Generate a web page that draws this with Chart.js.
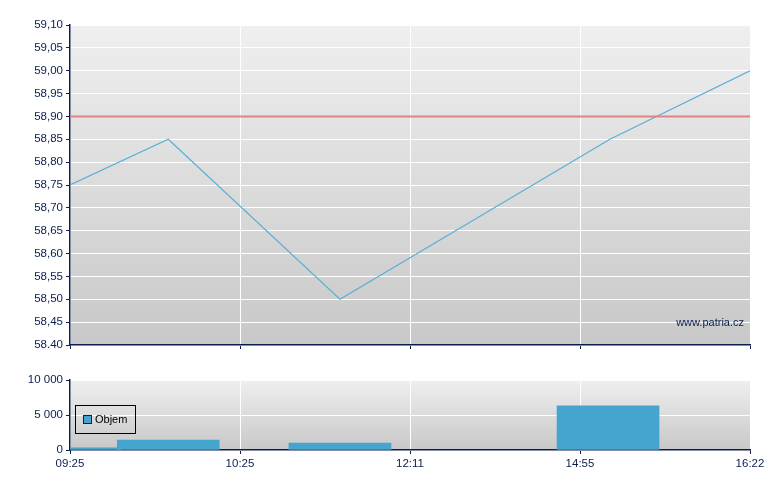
<!DOCTYPE html>
<html>
<head>
<meta charset="utf-8">
<script src="https://cdn.jsdelivr.net/npm/chart.js@4"></script>
<style>
  html, body { margin: 0; padding: 0; background: #fff; }
  #wrap { position: relative; width: 780px; height: 490px; font-family: "Liberation Sans", Arial, sans-serif; }
  #c1 { position: absolute; left: 0; top: 0; }
  #c2 { position: absolute; left: 0; top: 360px; }
  #legend { position: absolute; left: 75px; top: 405px; width: 59px; height: 27px; border: 1px solid #000; box-sizing: content-box; }
  #legend .sw { position: absolute; left: 7px; top: 9px; width: 7px; height: 7px; background: #46a5cf; border: 1px solid #10203a; }
  #legend .tx { position: absolute; left: 19px; top: 7px; font-size: 11px; color: #000; }
  #wm { position: absolute; right: 36px; top: 316px; font-size: 11px; color: #0a1f4f; }
</style>
</head>
<body>
<div id="wrap">
  <canvas id="c1" width="780" height="360" style="width:780px;height:360px"></canvas>
  <canvas id="c2" width="780" height="130" style="width:780px;height:130px"></canvas>
  <div id="wm">www.patria.cz</div>
  <div id="legend"><div class="sw"></div><div class="tx">Objem</div></div>
</div>
<script>
// ---- data ----
const timeLabels = ['09:25', '10:25', '12:11', '14:55', '16:22'];
const timeTickPos = [0, 1, 2, 3, 4];
const priceX = [0, 0.578, 1.588, 3.176, 4];
const priceY = [58.75, 58.85, 58.50, 58.85, 59.00];
const prevClose = 58.90;
const priceTickValues = [58.40, 58.45, 58.50, 58.55, 58.60, 58.65, 58.70, 58.75, 58.80, 58.85, 58.90, 58.95, 59.00, 59.05, 59.10];
const priceTickLabels = ['58.40', '58,45', '58,50', '58,55', '58,60', '58,65', '58,70', '58,75', '58,80', '58,85', '58,90', '58,95', '59,00', '59,05', '59,10'];
const volumeX = [0, 0.578, 1.588, 3.165];
const volumeY = [300, 1400, 1000, 6300];
const volumeTickValues = [0, 5000, 10000];
const volumeTickLabels = ['0', '5 000', '10 000'];
const seriesName = 'Objem';

// ---- styles ----
const NAVY = '#0a1f4f';
const FONT = { family: '"Liberation Sans", Arial, sans-serif', size: 11.5 };

const bgPlugin = {
  id: 'bgGrad',
  beforeDraw(chart) {
    const { ctx, chartArea: a } = chart;
    const g = ctx.createLinearGradient(0, a.top, 0, a.bottom);
    g.addColorStop(0, '#efefef');
    g.addColorStop(1, '#c8c8c8');
    ctx.save();
    ctx.fillStyle = g;
    ctx.fillRect(a.left, a.top, a.right - a.left, a.bottom - a.top);
    ctx.restore();
  }
};

function xScale(showLabels, height) {
  return {
    type: 'linear',
    min: 0, max: 4,
    offset: false,
    afterBuildTicks: s => { s.ticks = timeTickPos.map(v => ({ value: v })); },
    afterFit: s => { s.height = height; },
    grid: { color: '#ffffff', tickColor: NAVY, tickLength: 4, lineWidth: 1, offset: false },
    border: { color: NAVY, width: 1.5 },
    ticks: {
      display: showLabels,
      color: NAVY, font: FONT, padding: 3, maxRotation: 0, autoSkip: false,
      callback: (v, i) => timeLabels[i]
    }
  };
}

function yScale(min, max, vals, labels) {
  return {
    min, max,
    afterBuildTicks: s => { s.ticks = vals.map(v => ({ value: v })); },
    afterFit: s => { s.width = 70; },
    grid: { color: '#ffffff', tickColor: NAVY, tickLength: 4, lineWidth: 1 },
    border: { color: NAVY, width: 1.5 },
    ticks: { color: NAVY, font: FONT, padding: 3, autoSkip: false, callback: (v, i) => labels[i] }
  };
}

new Chart(document.getElementById('c1'), {
  type: 'line',
  data: {
    datasets: [
      {
        label: 'prev',
        data: [{ x: 0, y: prevClose }, { x: 4, y: prevClose }],
        borderColor: '#e08484', borderWidth: 2, pointRadius: 0, tension: 0
      },
      {
        label: 'price',
        data: priceX.map((x, i) => ({ x, y: priceY[i] })),
        borderColor: '#5aafd6', borderWidth: 1.2, pointRadius: 0, tension: 0
      }
    ]
  },
  options: {
    responsive: false, animation: false,
    layout: { padding: { top: 25, right: 30, left: 0, bottom: 0 } },
    plugins: { legend: { display: false }, tooltip: { enabled: false } },
    scales: {
      x: xScale(false, 15),
      y: yScale(58.40, 59.10, priceTickValues, priceTickLabels)
    }
  },
  plugins: [bgPlugin]
});

new Chart(document.getElementById('c2'), {
  type: 'bar',
  data: {
    datasets: [{
      label: seriesName,
      data: volumeX.map((x, i) => ({ x, y: volumeY[i] })),
      backgroundColor: '#46a5cf', borderWidth: 0, barThickness: 102
    }]
  },
  options: {
    responsive: false, animation: false,
    layout: { padding: { top: 20, right: 30, left: 0, bottom: 0 } },
    plugins: { legend: { display: false }, tooltip: { enabled: false } },
    scales: {
      x: xScale(true, 40),
      y: yScale(0, 10000, volumeTickValues, volumeTickLabels)
    }
  },
  plugins: [bgPlugin]
});
</script>
</body>
</html>
